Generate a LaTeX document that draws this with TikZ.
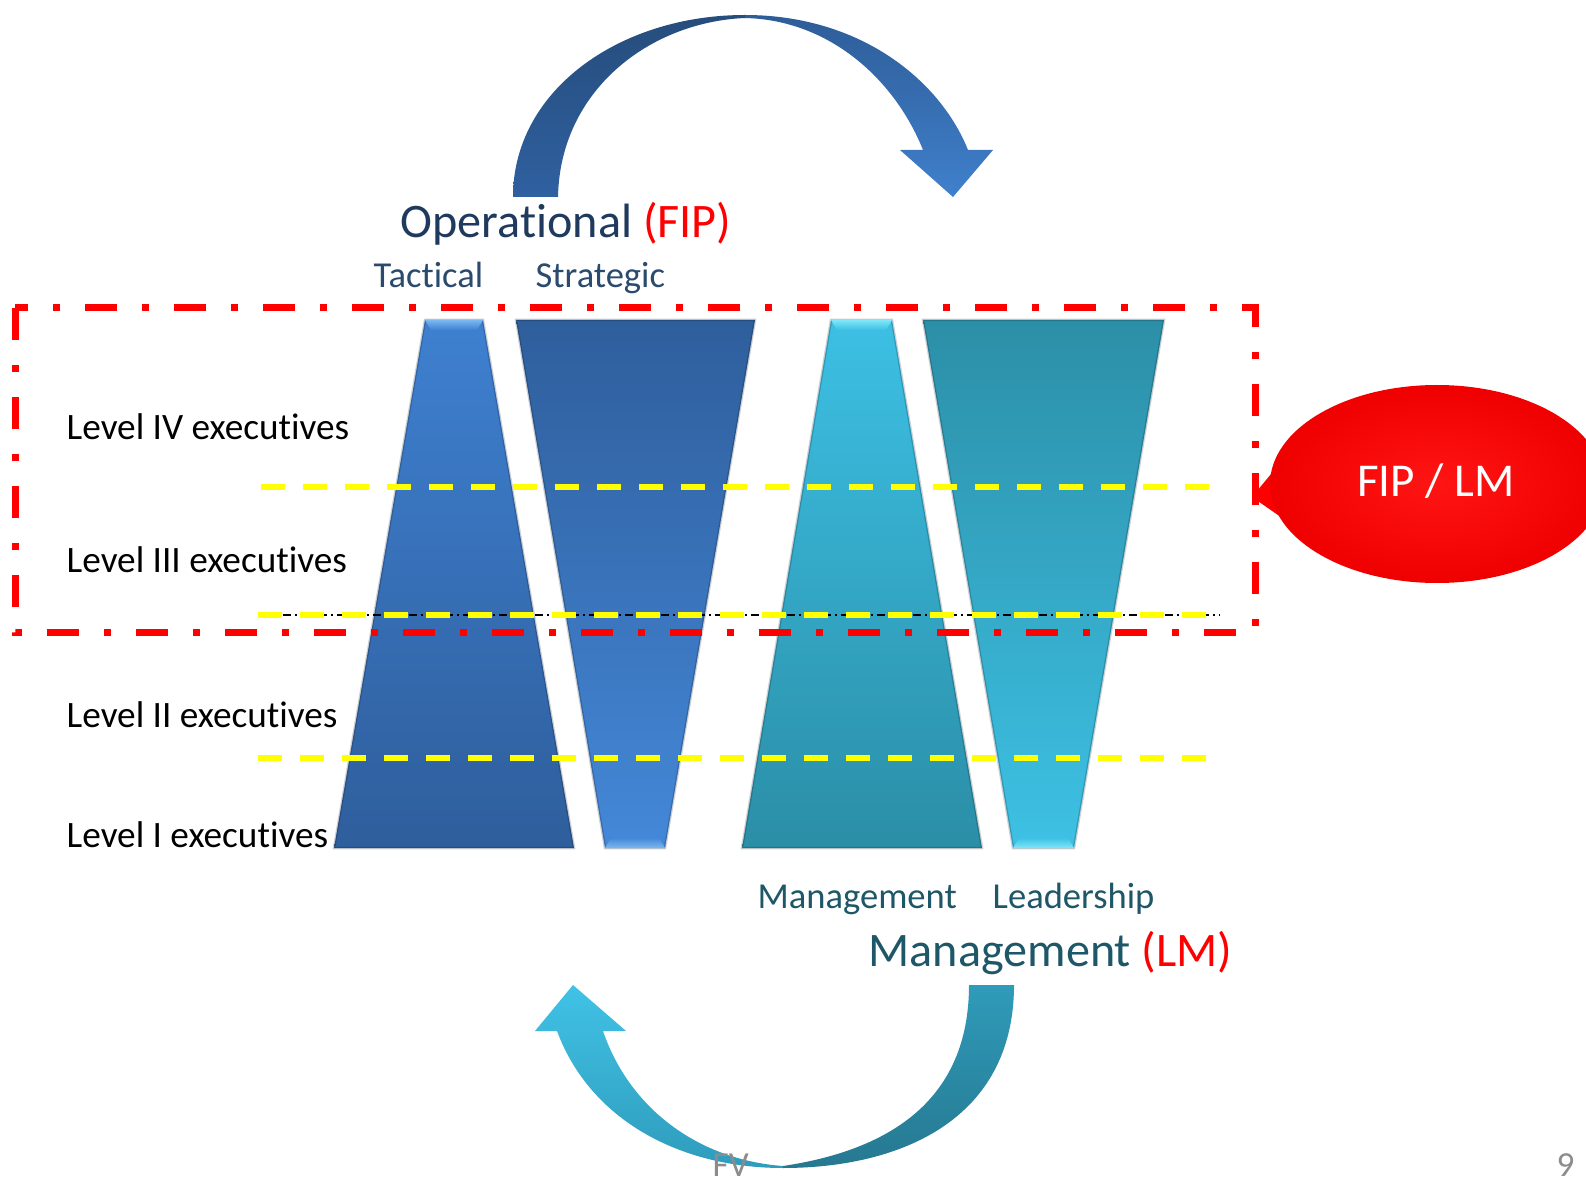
\documentclass[tikz,border=0pt]{standalone}
\usepackage{fontspec}
\setmainfont{Carlito}[Ligatures={NoCommon}]
\definecolor{navytxt}{HTML}{203A5E}
\definecolor{tactxt}{HTML}{2A4A6E}
\definecolor{tealtxt}{HTML}{1E5868}
\definecolor{fipred}{HTML}{FF0000}
\definecolor{tAtop}{HTML}{3E80D0}
\definecolor{tAbot}{HTML}{2F5E9C}
\definecolor{tBtop}{HTML}{2F5E9C}
\definecolor{tBbot}{HTML}{4488D8}
\definecolor{tCtop}{HTML}{3CC0E4}
\definecolor{tCbot}{HTML}{2B8EA7}
\definecolor{tDtop}{HTML}{2C8FA8}
\definecolor{tDbot}{HTML}{3DC1E4}
\definecolor{bevblue}{HTML}{7AB8F0}
\definecolor{bevcyan}{HTML}{80E6F8}
\definecolor{arrLtop}{HTML}{264D7C}
\definecolor{arrLbot}{HTML}{2F60A0}
\definecolor{arrRtop}{HTML}{2E5D98}
\definecolor{arrRbot}{HTML}{4080CC}
\definecolor{barLtop}{HTML}{40C2E6}
\definecolor{barLbot}{HTML}{2F9CBC}
\definecolor{barRtop}{HTML}{2F9BBA}
\definecolor{barRbot}{HTML}{267890}
\definecolor{ylw}{HTML}{FFFF00}
\definecolor{pagegray}{HTML}{8C8C8C}
\begin{document}
\begin{tikzpicture}[x=0.1mm,y=-0.1mm,
  lvltext/.style={anchor=base west,inner sep=0pt,font=\fontsize{10.6}{12}\selectfont,text=black},
  bigtext/.style={anchor=base west,inner sep=0pt,font=\fontsize{13.7}{16}\selectfont},
  smalltext/.style={anchor=base west,inner sep=0pt,font=\fontsize{10.4}{12}\selectfont},
  yline/.style={draw=ylw,line width=0.55mm,dash pattern=on 2.4mm off 1.8mm},
  trapedge/.style={draw=black,draw opacity=0.18,line width=0.25mm},
]
\useasboundingbox (0,0) rectangle (1586,1180);
\clip (0,0) rectangle (1586,1180);
\fill[white] (0,0) rectangle (1586,1180);

% ---- top curved arrow ----
\shade[top color=arrLtop,bottom color=arrLbot]
  (513,197) .. controls (513,90) and (620,15) .. (745,15)
  -- (745,18) .. controls (650,22) and (560,90) .. (558,197) -- cycle;
\shade[top color=arrRtop,bottom color=arrRbot]
  (745,15) .. controls (860,15) and (940,80) .. (968,150)
  -- (993,150) -- (953,197) -- (900,150) -- (923,150)
  .. controls (895,80) and (830,20) .. (745,18) -- cycle;

% ---- bottom curved arrow ----
\shade[top color=barLtop,bottom color=barLbot]
  (573,985) -- (626,1031) -- (603,1031)
  .. controls (630,1110) and (700,1160) .. (783,1166)
  -- (783,1168) .. controls (680,1168) and (590,1120) .. (557,1031)
  -- (535,1031) -- cycle;
\shade[top color=barRtop,bottom color=barRbot]
  (969,985) -- (1014,985)
  .. controls (1014,1120) and (900,1168) .. (783,1168)
  -- (783,1166) .. controls (890,1150) and (969,1100) .. (969,985) -- cycle;

% ---- trapezoids ----
\shade[top color=tAtop,bottom color=tAbot,trapedge] (425,320) -- (483,320) -- (574,848) -- (334,848) -- cycle;
\shade[top color=tBtop,bottom color=tBbot,trapedge] (516,320) -- (755,320) -- (665,848) -- (605,848) -- cycle;
\shade[top color=tCtop,bottom color=tCbot,trapedge] (831,320) -- (892,320) -- (982,848) -- (742,848) -- cycle;
\shade[top color=tDtop,bottom color=tDbot,trapedge] (923,320) -- (1164,320) -- (1074,848) -- (1013,848) -- cycle;
% bevels
\shade[top color=bevblue,bottom color=tAtop] (425,320) -- (483,320) -- (477,330) -- (431,330) -- cycle;
\shade[top color=tBbot,bottom color=bevblue] (611,838) -- (659,838) -- (665,848) -- (605,848) -- cycle;
\shade[top color=bevcyan,bottom color=tCtop] (831,320) -- (892,320) -- (886,330) -- (837,330) -- cycle;
\shade[top color=tDbot,bottom color=bevcyan] (1019,838) -- (1068,838) -- (1074,848) -- (1013,848) -- cycle;

% ---- level lines ----
\draw[yline] (261,487) -- (1209,487);
\draw[black,line width=0.2mm,dash pattern=on 0.8mm off 0.4mm on 0.2mm off 0.4mm] (283,615) -- (1219,615);
\draw[yline] (258,615) -- (1209,615);
\draw[yline] (258,758) -- (1206,758);

% ---- red dash-dot frame ----
\draw[fipred,line width=0.7mm,dash pattern=on 3.2mm off 2.5mm on 0.7mm off 2.5mm] (15,308) rectangle (1255,632);

% ---- FIP / LM balloon ----
\fill[fipred] (1252,497) -- (1276,468) -- (1288,522) -- cycle;
\shade[inner color=fipred!92!white,outer color=fipred!94!black] (1437,484) ellipse [x radius=167,y radius=99];
\node[inner sep=0pt,text=white,font=\fontsize{13.4}{16}\selectfont] (fiplm) at (1436,481) {FIP / LM};

% ---- texts ----
\node[bigtext] (oper) at (400,238) {\textcolor{navytxt}{Operational} \textcolor{fipred}{(FIP)}};
\node[smalltext,text=tactxt] (tact) at (373,288) {Tactical};
\node[smalltext,text=tactxt] (strat) at (535,288) {Strategic};
\node[lvltext] (l4) at (66,440) {Level IV executives};
\node[lvltext] (l3) at (66,572) {Level III executives};
\node[lvltext] (l2) at (66,727) {Level II executives};
\node[lvltext] (l1) at (66,847) {Level I executives};
\node[smalltext,text=tealtxt] (mgmt) at (757,908) {Management};
\node[smalltext,text=tealtxt] (lead) at (992,908) {Leadership};
\node[bigtext] (lm) at (868,966) {\textcolor{tealtxt}{Management} \textcolor{fipred}{(LM)}};
\node[anchor=base west,inner sep=0pt,text=pagegray,font=\fontsize{10}{12}\selectfont] (fv) at (712,1176) {FV};
\node[anchor=base west,inner sep=0pt,text=pagegray,font=\fontsize{10}{12}\selectfont] (pg) at (1556,1176) {9};
\end{tikzpicture}
\end{document}
